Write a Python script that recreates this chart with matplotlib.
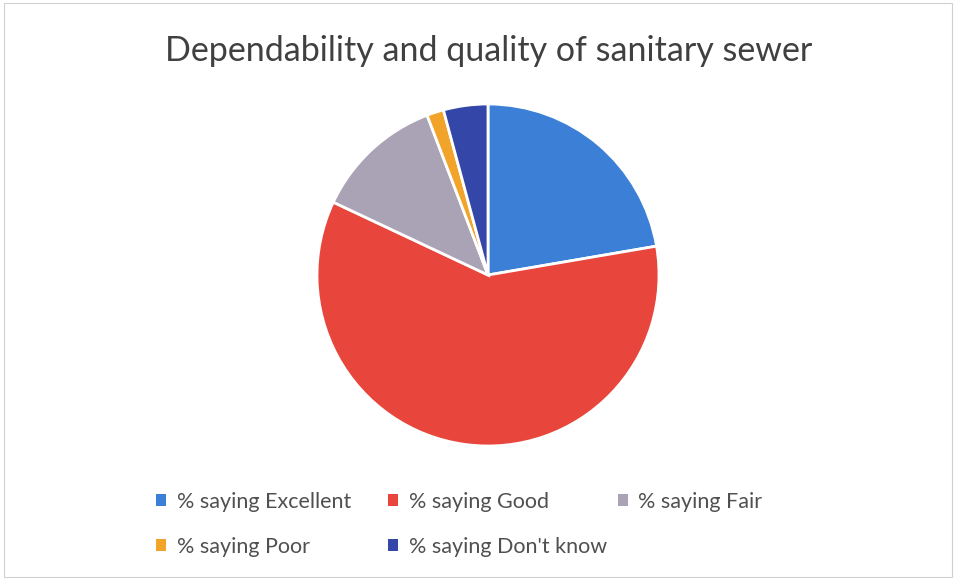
import matplotlib
matplotlib.use("Agg")
import matplotlib.pyplot as plt
from matplotlib.patches import Rectangle

# Dati (percentuali)
categorie = ["% saying Excellent", "% saying Good", "% saying Fair",
             "% saying Poor", "% saying Don't know"]
valori = [22.3, 59.7, 12.2, 1.6, 4.2]
colori = ["#3b7fd6", "#e8463c", "#aaa2b5", "#f2a42a", "#3447a8"]

plt.rcParams['font.family'] = ['Lato', 'DejaVu Sans']

fig = plt.figure(figsize=(9.56, 5.79), dpi=100)
fig.patch.set_facecolor("white")

# cornice leggera attorno al grafico
fig.add_artist(Rectangle((0.004, 0.004), 0.992, 0.99, transform=fig.transFigure,
                         fill=False, edgecolor="#d0d0d0", linewidth=0.8))

ax = fig.add_axes([317 / 956, 133 / 579, 342 / 956, 342 / 579])
wedges, _ = ax.pie(valori, colors=colori, startangle=90, counterclock=False,
                   wedgeprops=dict(edgecolor="white", linewidth=2))
ax.set_xlim(-1, 1)
ax.set_ylim(-1, 1)
ax.set_aspect("equal")

fig.text(0.511, 0.912, "Dependability and quality of sanitary sewer",
         ha="center", va="center", fontsize=24.5, color="#404040")

# legenda stile Excel: colonne a posizione fissa, righe riempite per prime
colonne_x = [0.143, 0.386, 0.626]
for c, x in enumerate(colonne_x):
    idx = [i for i in range(len(categorie)) if i % 3 == c]
    leg = fig.legend([wedges[i] for i in idx], [categorie[i] for i in idx],
                     loc="upper left", bbox_to_anchor=(x, 0.184),
                     frameon=False, fontsize=15.5, handlelength=0.45,
                     handleheight=0.45, handletextpad=0.5, labelspacing=1.15)
    for t in leg.get_texts():
        t.set_color("#505050")
    for h in leg.legend_handles:
        h.set_edgecolor("none")

fig.savefig("out.png", dpi=100)
